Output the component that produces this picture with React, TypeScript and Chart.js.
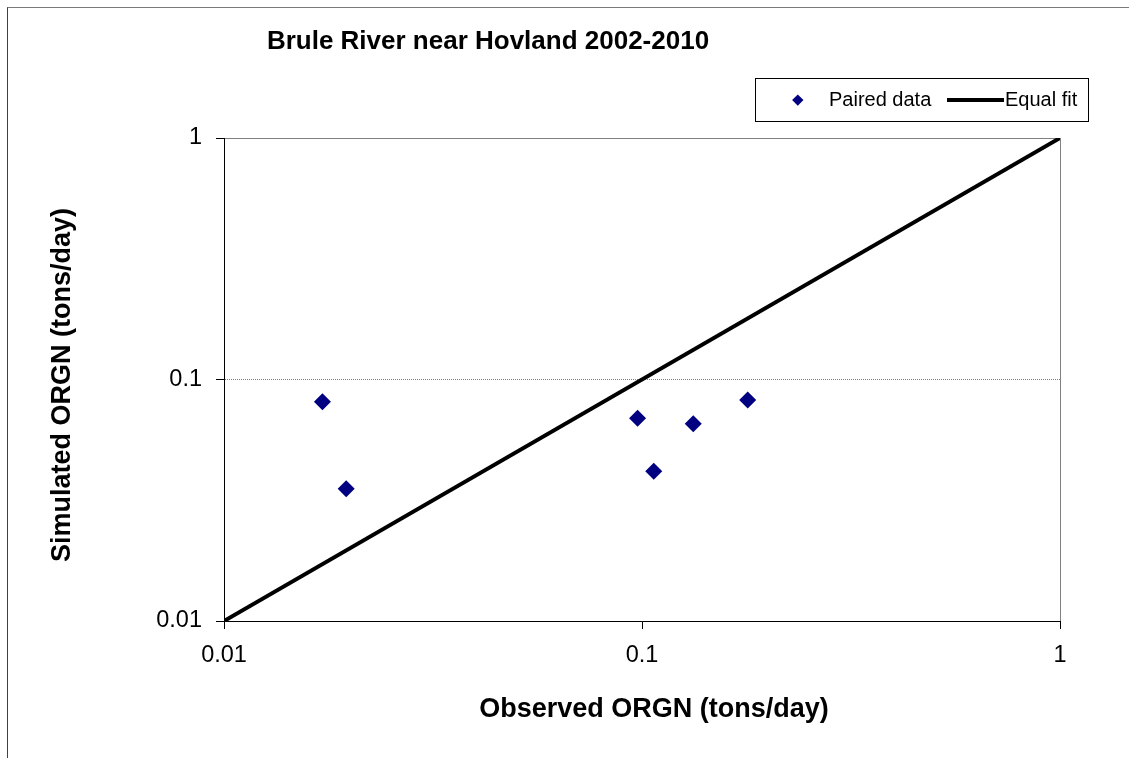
import React, { useEffect, useRef } from "react";
import { Chart, registerables } from "chart.js";

Chart.register(...registerables);

// ---- Data ----
const pairedX = [0.0172, 0.0196, 0.0976, 0.1067, 0.1326, 0.179];
const pairedY = [0.0809, 0.0353, 0.0691, 0.0417, 0.0656, 0.0823];
const equalFitX = [0.01, 1];
const equalFitY = [0.01, 1];
const tickValues = [0.01, 0.1, 1];
const tickLabels = ["0.01", "0.1", "1"];

const chartTitle = "Brule River near Hovland 2002-2010";
const xTitle = "Observed ORGN (tons/day)";
const yTitle = "Simulated ORGN (tons/day)";
const seriesNames = ["Paired data", "Equal fit"];

const FONT = "'Liberation Sans', Arial, sans-serif";

const labelFor = (v: number) => {
  const i = tickValues.findIndex((t) => Math.abs(t - v) < 1e-12);
  return i >= 0 ? tickLabels[i] : "";
};

const plotFrame = {
  id: "plotFrame",
  beforeDraw(chart: any) {
    const { ctx, chartArea } = chart;
    ctx.save();
    ctx.strokeStyle = "#808080";
    ctx.lineWidth = 1;
    ctx.strokeRect(chartArea.left + 0.5, chartArea.top + 0.5, chartArea.right - chartArea.left, chartArea.bottom - chartArea.top);
    ctx.restore();
  },
};

export default function App() {
  const canvasRef = useRef<HTMLCanvasElement | null>(null);

  useEffect(() => {
    if (!canvasRef.current) return;
    const chart = new Chart(canvasRef.current, {
      data: {
        datasets: [
          {
            type: "line",
            label: seriesNames[1],
            data: equalFitX.map((x, i) => ({ x, y: equalFitY[i] })),
            borderColor: "#000000",
            borderWidth: 4,
            pointRadius: 0,
            fill: false,
            order: 2,
          } as any,
          {
            type: "scatter",
            label: seriesNames[0],
            data: pairedX.map((x, i) => ({ x, y: pairedY[i] })),
            pointStyle: "rectRot",
            pointRadius: 8.5,
            backgroundColor: "#000080",
            borderColor: "#000080",
            borderWidth: 0,
            order: 1,
          } as any,
        ],
      },
      options: {
        responsive: false,
        animation: false,
        layout: { padding: { left: 0, right: 69, top: 138, bottom: 0 } },
        plugins: {
          legend: { display: false },
          title: { display: false },
          tooltip: { enabled: false },
        },
        scales: {
          x: {
            type: "logarithmic",
            position: "bottom",
            min: 0.01,
            max: 1,
            afterBuildTicks: (s: any) => {
              s.ticks = tickValues.map((v) => ({ value: v }));
            },
            afterFit: (s: any) => {
              s.height = 137;
            },
            ticks: {
              callback: (v: any) => labelFor(Number(v)),
              font: { family: FONT, size: 23.5 },
              color: "#000000",
              padding: 12,
              maxRotation: 0,
              autoSkip: false,
            },
            grid: {
              drawOnChartArea: false,
              drawTicks: true,
              tickLength: 8,
              tickColor: "#000000",
            },
            border: { display: true, color: "#000000", width: 1 },
          },
          y: {
            type: "logarithmic",
            position: "left",
            min: 0.01,
            max: 1,
            afterBuildTicks: (s: any) => {
              s.ticks = tickValues.map((v) => ({ value: v }));
            },
            afterFit: (s: any) => {
              s.width = 224;
            },
            ticks: {
              callback: (v: any) => labelFor(Number(v)),
              font: { family: FONT, size: 23.5 },
              color: "#000000",
              padding: 14,
              autoSkip: false,
            },
            grid: {
              drawOnChartArea: true,
              drawTicks: true,
              tickLength: 8,
              tickColor: "#000000",
              color: (c: any) =>
                c.tick && Math.abs(c.tick.value - 0.1) < 1e-9 ? "#808080" : "rgba(0,0,0,0)",
              lineWidth: 1,
            },
            border: { display: true, color: "#000000", width: 1, dash: [1, 1] },
          },
        },
      },
      plugins: [plotFrame],
    } as any);
    return () => chart.destroy();
  }, []);

  const textBase: React.CSSProperties = {
    position: "absolute",
    whiteSpace: "nowrap",
    fontFamily: FONT,
    color: "#000",
  };

  return (
    <div
      style={{
        position: "fixed",
        left: 0,
        top: 0,
        width: 1129,
        height: 758,
        overflow: "hidden",
        background: "#fff",
      }}
    >
      <canvas ref={canvasRef} width={1129} height={758} style={{ position: "absolute", left: 0, top: 0, width: 1129, height: 758 }} />
      <div
        style={{
          position: "absolute",
          left: 7,
          top: 7,
          width: 1300,
          height: 900,
          borderTop: "1px solid #7a7a7a",
          borderLeft: "1px solid #404040",
          pointerEvents: "none",
        }}
      />
      <div
        style={{
          ...textBase,
          left: 488,
          top: 27,
          fontSize: 26,
          lineHeight: "26px",
          fontWeight: "bold",
          transform: "translateX(-50%)",
        }}
      >
        {chartTitle}
      </div>
      <div
        style={{
          ...textBase,
          left: 654,
          top: 695,
          fontSize: 27,
          lineHeight: "27px",
          fontWeight: "bold",
          transform: "translateX(-50%)",
        }}
      >
        {xTitle}
      </div>
      <div
        style={{
          ...textBase,
          left: 61,
          top: 385,
          fontSize: 27,
          lineHeight: "27px",
          fontWeight: "bold",
          transform: "translate(-50%, -50%) rotate(-90deg)",
        }}
      >
        {yTitle}
      </div>
      {/* Legend */}
      <div
        style={{
          position: "absolute",
          left: 755,
          top: 78,
          width: 334,
          height: 44,
          boxSizing: "border-box",
          border: "1px solid #000",
          background: "#fff",
        }}
      />
      <div
        style={{
          position: "absolute",
          left: 797.3 - 3.8,
          top: 100 - 3.8,
          width: 7.6,
          height: 7.6,
          background: "#000080",
          transform: "rotate(45deg)",
        }}
      />
      <div style={{ ...textBase, left: 829, top: 89, fontSize: 20, lineHeight: "20px" }}>{seriesNames[0]}</div>
      <div style={{ position: "absolute", left: 947, top: 98, width: 57, height: 4, background: "#000" }} />
      <div style={{ ...textBase, left: 1005, top: 89, fontSize: 20, lineHeight: "20px" }}>{seriesNames[1]}</div>
    </div>
  );
}
